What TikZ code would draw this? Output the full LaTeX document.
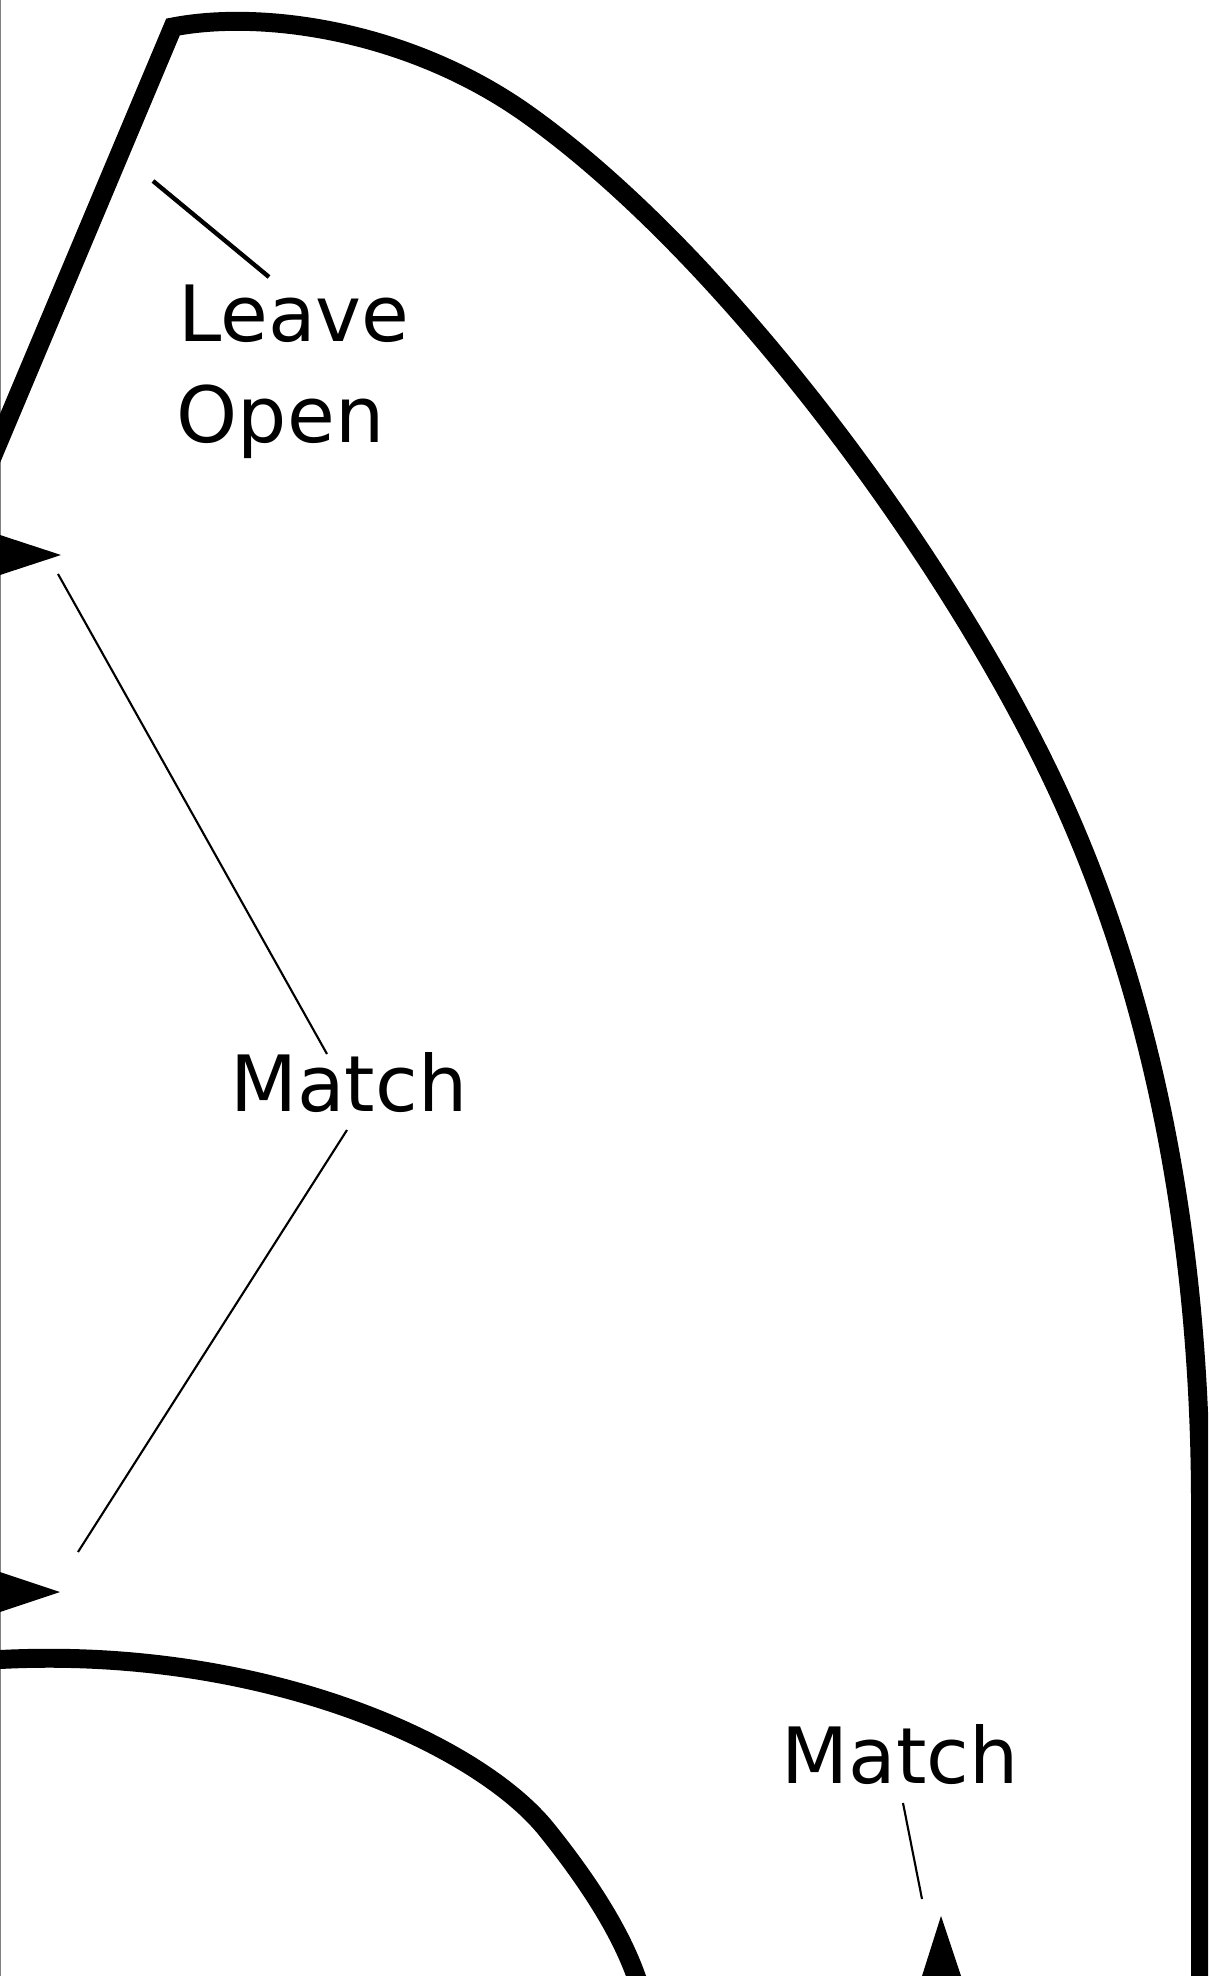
\documentclass[tikz,border=0pt]{standalone}
\usepackage{fontspec}
\setmainfont{DejaVu Sans}
\tikzset{
	outline/.style={line width=10.8pt,black},
	leaderthick/.style={line width=2.5pt,black},
	leaderthin/.style={line width=1.2pt,black},
	pointer/.style={fill=black,draw=none},
	tag/.style={anchor=base west,inner sep=0pt,font=\fontsize{44.2}{54}\selectfont}
}

\begin{document}
\begin{tikzpicture}[x=0.02cm,y=-0.02cm]
		\useasboundingbox (0,0) rectangle (1208,1976);
		\clip (0,0) rectangle (1208,1976);
		\fill[white] (0,0) rectangle (1208,1976);
		\draw[gray,line width=0.8pt] (0.5,0) -- (0.5,1976);

		\draw[outline] (-20,486) -- (173,27) .. controls (260,10) and (407,29) .. (527,114)
			.. controls (731,259) and (959,573) .. (1062,800)
			.. controls (1161,1018) and (1200.5,1265) .. (1200.5,1505) -- (1200.5,1990);
		\draw[outline] (-10,1660) -- (0,1659.5) .. controls (260,1646) and (477,1742.5) .. (547,1830)
			.. controls (575,1865) and (616,1920) .. (636,1976) -- (640,1987);

		\fill[pointer] (0,535) -- (61,555) -- (0,575) -- cycle;
		\fill[pointer] (0,1572) -- (60,1592) -- (0,1612) -- cycle;
		\fill[pointer] (922,1976) -- (941,1916) -- (961,1976) -- cycle;

		\node[tag] (leave) at (178,342) {Leave};
		\node[tag] (open) at (176.5,442) {Open};
		\node[tag] (matchleft) at (230,1111) {Match};
		\node[tag] (matchright) at (781.5,1783) {Match};

		\coordinate (leavetop) at (153,181);
		\coordinate (leavebot) at (269,277);
		\coordinate (uppertop) at (58,574);
		\coordinate (upperbot) at (327,1054);
		\coordinate (lowertop) at (347,1130);
		\coordinate (lowerbot) at (78,1552);
		\coordinate (righttop) at (903,1803);
		\coordinate (rightbot) at (922,1899);

		\draw[leaderthick] (leavetop) -- (leavebot);
		\draw[leaderthin] (uppertop) -- (upperbot);
		\draw[leaderthin] (lowertop) -- (lowerbot);
		\draw[leaderthin] (righttop) -- (rightbot);
	\end{tikzpicture}
\end{document}
